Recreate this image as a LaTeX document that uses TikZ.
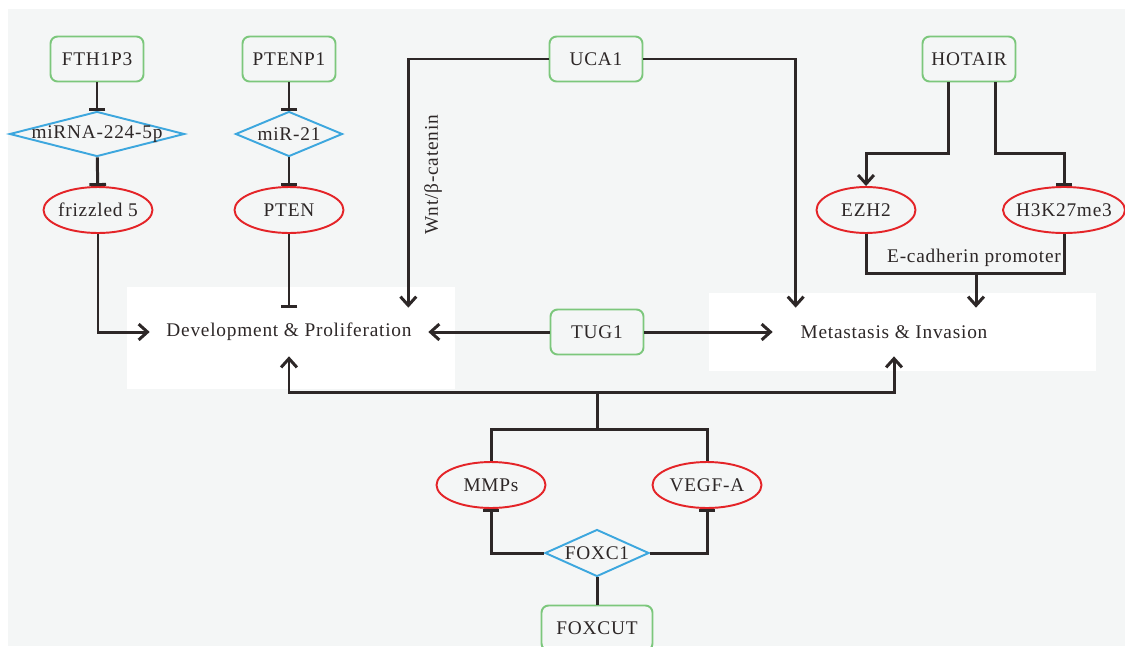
\documentclass[tikz,border=0pt]{standalone}
\usepackage{fontspec}
\setmainfont{Liberation Serif}[LetterSpace=4]
\usetikzlibrary{arrows.meta,shapes.geometric}
\usepackage{xcolor}
\definecolor{bggray}{HTML}{F4F6F6}
\definecolor{boxgreen}{HTML}{7CC77C}
\definecolor{mirblue}{HTML}{3DA7DE}
\definecolor{protred}{HTML}{E42428}
\definecolor{linedark}{HTML}{2D2727}

\begin{document}
\begin{tikzpicture}[x=0.02cm, y=-0.02cm,
        every node/.style={font=\fontsize{11}{13}\selectfont, text=linedark},
        lnc/.style={draw=boxgreen, line width=1.1pt, rounded corners=4pt, minimum width=1.86cm, minimum height=0.9cm, inner sep=0pt},
        mirna/.style={diamond, draw=mirblue, line width=1.1pt, minimum height=0.9cm, inner sep=0pt,
            execute at begin node={\hbox to 0pt\bgroup\hss}, execute at end node={\hss\egroup}},
        prot/.style={ellipse, draw=protred, line width=1.1pt, minimum width=2.18cm, minimum height=0.92cm, inner sep=0pt,
            execute at begin node={\hbox to 0pt\bgroup\hss}, execute at end node={\hss\egroup}},
        outcome/.style={minimum height=0.96cm, inner sep=0pt},
        conn/.style={draw=linedark, line width=1.7pt},
        act/.style={conn, -{Straight Barb[length=5pt,width=9pt]}},
        inh/.style={conn, -{Bar[width=9.5pt]}}]
        \useasboundingbox (0,0) rectangle (1125,646);
        \fill[bggray] (8,9) rectangle (1125,646);
        \fill[white] (127,287) rectangle (455,389);
        \fill[white] (709,293) rectangle (1096,371);

        \node[lnc] (fth) at (97,59) {FTH1P3};
        \node[lnc] (ptenp) at (289,59) {PTENP1};
        \node[lnc] (uca) at (596,59) {UCA1};
        \node[lnc] (hotair) at (969,59) {HOTAIR};
        \node[lnc] (tug) at (597,332) {TUG1};
        \node[lnc, minimum width=2.22cm] (foxcut) at (597,628) {FOXCUT};

        \node[mirna, minimum width=3.5cm] (mir224) at (97,134) {miRNA-224-5p};
        \node[mirna, minimum width=2.14cm] (mir21) at (289,134) {miR-21};
        \node[mirna, minimum width=2.08cm, minimum height=0.94cm] (foxc) at (597,553) {FOXC1};

        \node[prot] (fzd) at (98,210) {frizzled 5};
        \node[prot] (pten) at (289,210) {PTEN};
        \node[prot, minimum width=1.98cm] (ezh) at (866,210) {EZH2};
        \node[prot, minimum width=2.44cm] (h3k) at (1064,210) {H3K27me3};
        \node[prot] (mmp) at (491,485) {MMPs};
        \node[prot] (vegf) at (707,485) {VEGF-A};

        \node[outcome, minimum width=5.56cm] (dev) at (289,332) {Development \& Proliferation};
        \node[outcome, minimum width=4.84cm] (met) at (894,332) {Metastasis \& Invasion};
        \node[rotate=90] (wnt) at (433,175) {Wnt/β-catenin};
        \node (ecadlbl) at (974,258) {E-cadherin promoter};

        \draw[inh] (fth) -- (mir224);
        \draw[inh] (mir224) -- (fzd);
        \draw[act] (fzd) |- (dev);
        \draw[inh] (ptenp) -- (mir21);
        \draw[inh] (mir21) -- (pten);
        \draw[inh] (pten) -- (pten |- dev.north);

        \draw[act] (uca) -| ([xshift=-0.4cm]dev.north east);
        \draw[act] (uca) -| ([xshift=0.46cm]met.north west);
        \draw[act] (tug) -- (dev);
        \draw[act] (tug) -- (met);

        \draw[act] ([xshift=-0.42cm]hotair.south) -- ++(0,71) -| (ezh);
        \draw[inh] ([xshift=0.52cm]hotair.south) -- ++(0,71) -| (h3k);
        \draw[conn] (ezh.south) -- ++(0,40) -| (h3k.south);
        \coordinate (ecad) at (976,273);
        \draw[act] (ecad) -- (ecad |- met.north);

        \coordinate (hub) at (597,392);
        \coordinate (fork) at (597,429);
        \draw[act] (hub) -| (dev);
        \draw[act] (hub) -| (met);
        \draw[conn] (hub) -- (fork);
        \draw[conn] (fork) -| (mmp);
        \draw[conn] (fork) -| (vegf);
        \draw[inh] (foxc) -| (mmp);
        \draw[inh] (foxc) -| (vegf);
        \draw[conn] (foxcut) -- (foxc);
\end{tikzpicture}
\end{document}
